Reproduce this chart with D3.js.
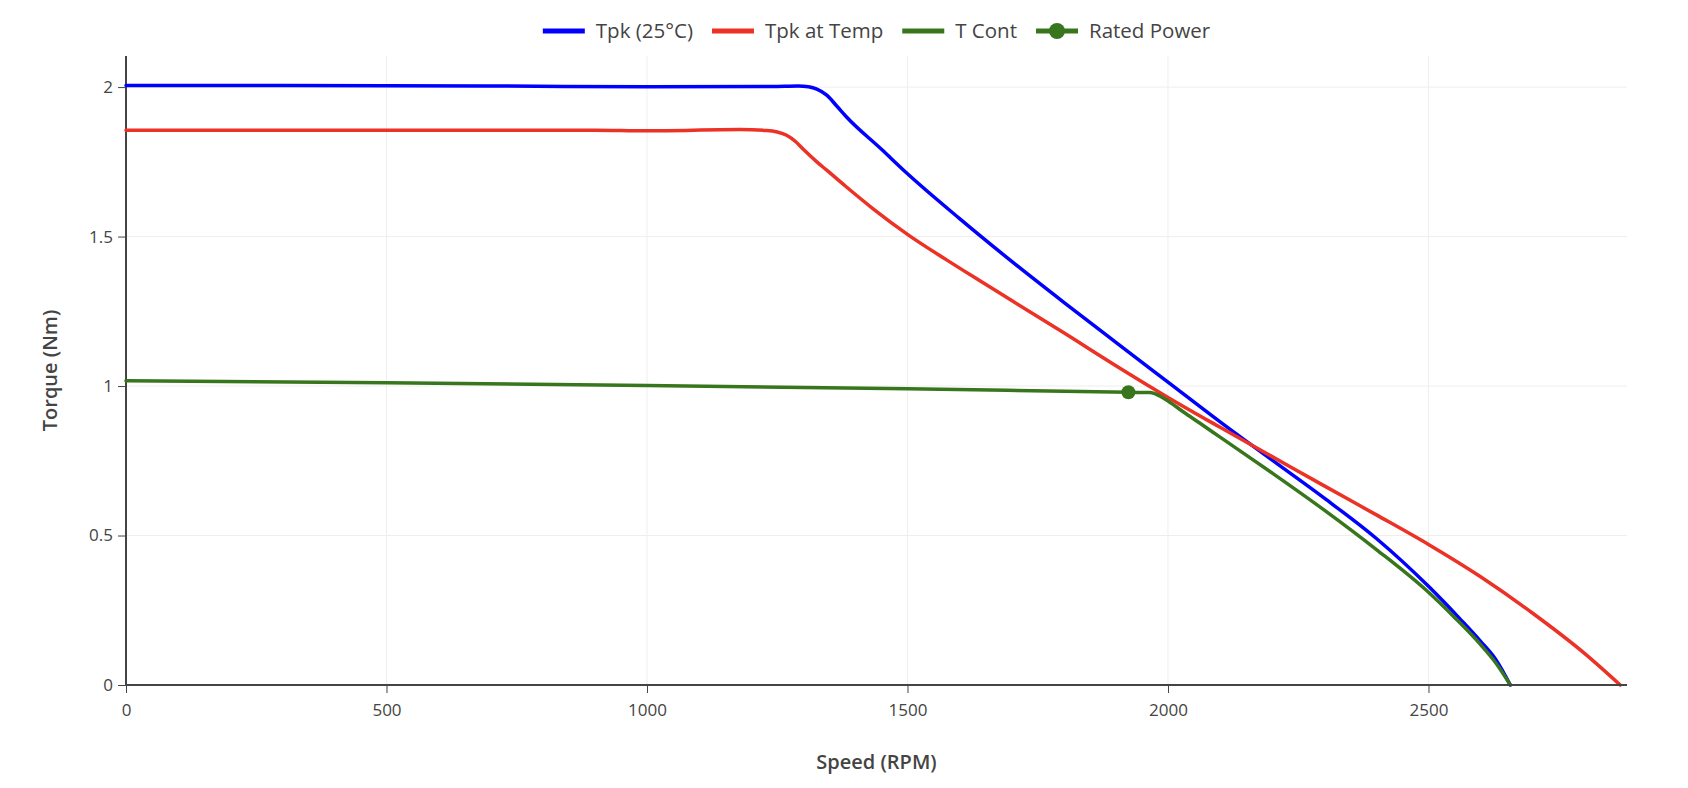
<!DOCTYPE html>
<html><head><meta charset="utf-8">
<script src="https://cdn.jsdelivr.net/npm/d3@7"></script>
<style>
body{margin:0;background:#fff;}
text{font-family:"Open Sans",sans-serif;}
</style>
</head><body>
<svg id="chart" width="1688" height="788"></svg>
<script>
// ---- data ----
const tpk25Speed  = [0, 300, 690, 1000, 1240, 1290, 1310, 1326, 1345, 1365, 1383, 1450, 1500, 1600, 1700, 1800, 1900, 2000, 2100, 2200, 2300, 2400, 2500, 2560, 2600, 2630, 2657];
const tpk25Torque = [2.005, 2.005, 2.004, 2.001, 2.002, 2.004, 2.001, 1.993, 1.973, 1.935, 1.900, 1.792, 1.710, 1.560, 1.417, 1.280, 1.146, 1.013, 0.880, 0.752, 0.625, 0.490, 0.330, 0.222, 0.146, 0.083, 0];

const tpkTempSpeed  = [0, 500, 900, 1000, 1178, 1230, 1250, 1268, 1285, 1300, 1326, 1345, 1380, 1434, 1502, 1575, 1639, 1700, 1800, 1900, 2000, 2100, 2200, 2300, 2400, 2500, 2600, 2700, 2800, 2868];
const tpkTempTorque = [1.856, 1.856, 1.856, 1.854, 1.858, 1.855, 1.850, 1.839, 1.818, 1.792, 1.750, 1.722, 1.670, 1.593, 1.505, 1.422, 1.352, 1.286, 1.178, 1.068, 0.962, 0.862, 0.764, 0.666, 0.569, 0.470, 0.362, 0.240, 0.105, 0];

const tContSpeed  = [0, 500, 1000, 1500, 1924, 1965, 1985, 2000, 2029, 2060, 2100, 2200, 2300, 2400, 2500, 2550, 2600, 2630, 2657];
const tContTorque = [1.018, 1.011, 1.002, 0.991, 0.979, 0.978, 0.966, 0.95, 0.914, 0.877, 0.829, 0.709, 0.585, 0.453, 0.310, 0.226, 0.135, 0.072, 0];

const ratedSpeed  = [1924];
const ratedTorque = [0.979];

const xTicks = [0, 500, 1000, 1500, 2000, 2500];
const yTicks = [0, 0.5, 1, 1.5, 2];
const xDomain = [0, 2881];
const yDomain = [0, 2.104];

const seriesNames  = ["Tpk (25°C)", "Tpk at Temp", "T Cont", "Rated Power"];
const seriesColors = ["#0000ff", "#ec3125", "#38761d", "#38761d"];
const xTitle = "Speed (RPM)";
const yTitle = "Torque (Nm)";

// ---- layout ----
const svg = d3.select("#chart");
const L = 126, R = 1627, T = 56, B = 685;
const x = d3.scaleLinear().domain(xDomain).range([L, R]);
const y = d3.scaleLinear().domain(yDomain).range([B, T]);

// grid
const grid = svg.append("g");
grid.selectAll(".gx").data(xTicks.filter(d => d !== 0)).enter().append("line")
  .attr("x1", d => x(d)).attr("x2", d => x(d)).attr("y1", T).attr("y2", B)
  .attr("stroke", "#eeeeee").attr("stroke-width", 1);
grid.selectAll(".gy").data(yTicks.filter(d => d !== 0)).enter().append("line")
  .attr("x1", L).attr("x2", R).attr("y1", d => y(d)).attr("y2", d => y(d))
  .attr("stroke", "#eeeeee").attr("stroke-width", 1);

// axes
const xAxis = svg.append("g").attr("transform", `translate(0,${B})`)
  .call(d3.axisBottom(x).tickValues(xTicks).tickSize(8).tickPadding(11).tickFormat(d3.format("d")));
const yAxis = svg.append("g").attr("transform", `translate(${L},0)`)
  .call(d3.axisLeft(y).tickValues(yTicks).tickSize(8).tickPadding(5).tickFormat(d => String(d)));
[xAxis, yAxis].forEach(a => {
  a.select(".domain").remove();
  a.selectAll(".tick line").attr("stroke", "#444").attr("stroke-width", 1);
  a.selectAll(".tick text").attr("fill", "#444").style("font-size", "17px").style("font-family", '"Open Sans", sans-serif');
});
svg.append("line").attr("x1", L).attr("x2", L).attr("y1", T).attr("y2", B + 1)
  .attr("stroke", "#444").attr("stroke-width", 2);

// lines
const line = d3.line().x(d => x(d[0])).y(d => y(d[1])).curve(d3.curveMonotoneX);
const series = [
  [tpk25Speed, tpk25Torque],
  [tpkTempSpeed, tpkTempTorque],
  [tContSpeed, tContTorque]
];
series.forEach((s, i) => {
  const pts = s[0].map((v, k) => [v, s[1][k]]);
  svg.append("path").datum(pts).attr("d", line)
    .attr("fill", "none").attr("stroke", seriesColors[i]).attr("stroke-width", 3.5)
    .attr("stroke-linejoin", "round").attr("stroke-linecap", "round");
});
// x axis line (on top, at y = 0)
svg.append("line").attr("x1", L - 1).attr("x2", R).attr("y1", B).attr("y2", B)
  .attr("stroke", "#444").attr("stroke-width", 2);

// rated power marker
const ratedPts = ratedSpeed.map((v, k) => [v, ratedTorque[k]]);
svg.append("path").datum(ratedPts).attr("d", line).attr("fill", "none")
  .attr("stroke", seriesColors[3]).attr("stroke-width", 3.5);
svg.selectAll(".rp").data(ratedPts).enter().append("circle")
  .attr("cx", d => x(d[0])).attr("cy", d => y(d[1])).attr("r", 7)
  .attr("fill", seriesColors[3]);

// axis titles
svg.append("text").attr("x", (L + R) / 2).attr("y", 762).attr("dy", "0.35em")
  .attr("text-anchor", "middle").attr("fill", "#444")
  .style("font-size", "20px").style("font-weight", 600).text(xTitle);
svg.append("text").attr("transform", `translate(50,${(T + B) / 2}) rotate(-90)`).attr("dy", "0.35em")
  .attr("text-anchor", "middle").attr("fill", "#444")
  .style("font-size", "20px").style("font-weight", 600).text(yTitle);

// legend
const lg = svg.append("g");
let cx = 0;
seriesNames.forEach((name, i) => {
  const g = lg.append("g");
  g.append("line").attr("x1", 0).attr("x2", 42).attr("y1", 0).attr("y2", 0)
    .attr("stroke", seriesColors[i]).attr("stroke-width", 5);
  if (i === 3) g.append("circle").attr("cx", 21).attr("cy", 0).attr("r", 8).attr("fill", seriesColors[i]);
  const t = g.append("text").attr("x", 53).attr("y", 0).attr("dy", "0.35em")
    .attr("fill", "#444").style("font-size", "20.5px").text(name);
  const w = 53 + t.node().getComputedTextLength();
  g.attr("transform", `translate(${cx},31)`);
  cx += w + 19;
});
const totalW = cx - 19;
lg.attr("transform", `translate(${(L + R) / 2 - totalW / 2},0)`);
</script>
</body></html>
